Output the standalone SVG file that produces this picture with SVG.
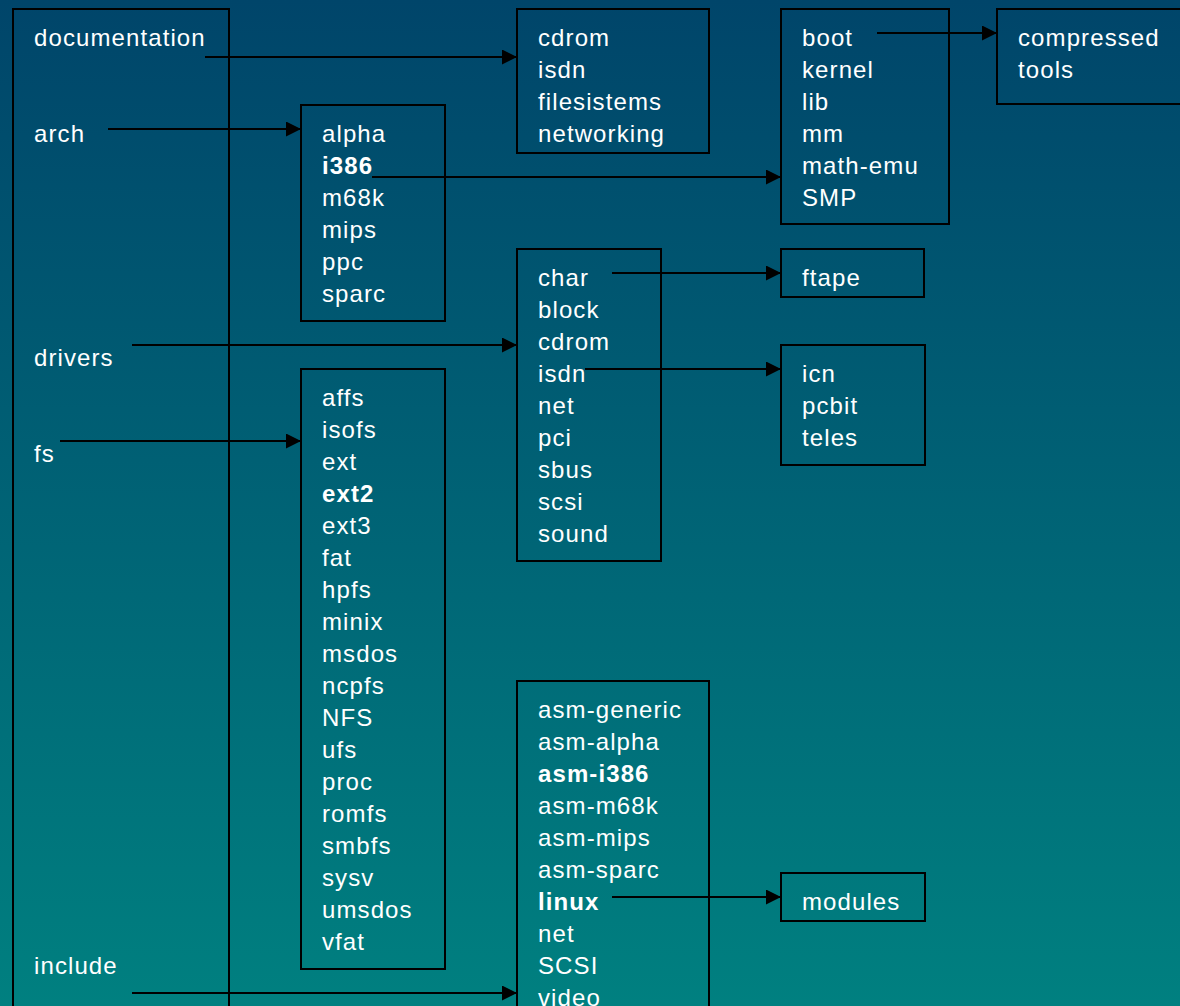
<svg xmlns="http://www.w3.org/2000/svg" width="1180" height="1006" viewBox="0 0 1180 1006">
<defs>
<linearGradient id="bg" x1="0" y1="0" x2="0" y2="1">
<stop offset="0" stop-color="#00456A"/>
<stop offset="1" stop-color="#008080"/>
</linearGradient>
<marker id="ah" markerUnits="userSpaceOnUse" markerWidth="16" markerHeight="16" refX="15" refY="7.5" orient="auto">
<path d="M0,0 L15,7.5 L0,15 z" fill="#000"/>
</marker>
<style>
.box{fill:none;stroke:#000;stroke-width:2}
text{font-family:"Liberation Sans",Arial,sans-serif;font-size:24px;fill:#fff;letter-spacing:1.1px}
.b{font-weight:bold}
.c{stroke:#000;stroke-width:2;fill:none;marker-end:url(#ah)}
</style>
</defs>
<rect x="0" y="0" width="1180" height="1006" fill="url(#bg)"/>
<g id="root">
<rect class="box" x="13" y="9" width="216" height="1100"/>
<text x="34" y="46">documentation</text>
<text x="34" y="142">arch</text>
<text x="34" y="366">drivers</text>
<text x="34" y="462">fs</text>
<text x="34" y="974">include</text>
</g>
<g id="documentation">
<rect class="box" x="517" y="9" width="192" height="144"/>
<text x="538" y="46">cdrom</text>
<text x="538" y="78">isdn</text>
<text x="538" y="110">filesistems</text>
<text x="538" y="142">networking</text>
</g>
<g id="i386">
<rect class="box" x="781" y="9" width="168" height="215"/>
<text x="802" y="46">boot</text>
<text x="802" y="78">kernel</text>
<text x="802" y="110">lib</text>
<text x="802" y="142">mm</text>
<text x="802" y="174">math-emu</text>
<text x="802" y="206">SMP</text>
</g>
<g id="boot">
<rect class="box" x="997" y="9" width="200" height="95"/>
<text x="1018" y="46">compressed</text>
<text x="1018" y="78">tools</text>
</g>
<g id="arch">
<rect class="box" x="301" y="105" width="144" height="216"/>
<text x="322" y="142">alpha</text>
<text x="322" y="174" class="b">i386</text>
<text x="322" y="206">m68k</text>
<text x="322" y="238">mips</text>
<text x="322" y="270">ppc</text>
<text x="322" y="302">sparc</text>
</g>
<g id="drivers">
<rect class="box" x="517" y="249" width="144" height="312"/>
<text x="538" y="286">char</text>
<text x="538" y="318">block</text>
<text x="538" y="350">cdrom</text>
<text x="538" y="382">isdn</text>
<text x="538" y="414">net</text>
<text x="538" y="446">pci</text>
<text x="538" y="478">sbus</text>
<text x="538" y="510">scsi</text>
<text x="538" y="542">sound</text>
</g>
<g id="char">
<rect class="box" x="781" y="249" width="143" height="48"/>
<text x="802" y="286">ftape</text>
</g>
<g id="isdn">
<rect class="box" x="781" y="345" width="144" height="120"/>
<text x="802" y="382">icn</text>
<text x="802" y="414">pcbit</text>
<text x="802" y="446">teles</text>
</g>
<g id="fs">
<rect class="box" x="301" y="369" width="144" height="600"/>
<text x="322" y="406">affs</text>
<text x="322" y="438">isofs</text>
<text x="322" y="470">ext</text>
<text x="322" y="502" class="b">ext2</text>
<text x="322" y="534">ext3</text>
<text x="322" y="566">fat</text>
<text x="322" y="598">hpfs</text>
<text x="322" y="630">minix</text>
<text x="322" y="662">msdos</text>
<text x="322" y="694">ncpfs</text>
<text x="322" y="726">NFS</text>
<text x="322" y="758">ufs</text>
<text x="322" y="790">proc</text>
<text x="322" y="822">romfs</text>
<text x="322" y="854">smbfs</text>
<text x="322" y="886">sysv</text>
<text x="322" y="918">umsdos</text>
<text x="322" y="950">vfat</text>
</g>
<g id="include">
<rect class="box" x="517" y="681" width="192" height="400"/>
<text x="538" y="718">asm-generic</text>
<text x="538" y="750">asm-alpha</text>
<text x="538" y="782" class="b">asm-i386</text>
<text x="538" y="814">asm-m68k</text>
<text x="538" y="846">asm-mips</text>
<text x="538" y="878">asm-sparc</text>
<text x="538" y="910" class="b">linux</text>
<text x="538" y="942">net</text>
<text x="538" y="974">SCSI</text>
<text x="538" y="1006">video</text>
</g>
<g id="linux">
<rect class="box" x="781" y="873" width="144" height="48"/>
<text x="802" y="910">modules</text>
</g>
<g id="connectors">
<line class="c" x1="205" y1="57" x2="517" y2="57"/>
<line class="c" x1="108" y1="129" x2="301" y2="129"/>
<line class="c" x1="372" y1="177" x2="781" y2="177"/>
<line class="c" x1="877" y1="33" x2="997" y2="33"/>
<line class="c" x1="612" y1="273" x2="781" y2="273"/>
<line class="c" x1="132" y1="345" x2="517" y2="345"/>
<line class="c" x1="585" y1="369" x2="781" y2="369"/>
<line class="c" x1="60" y1="441" x2="301" y2="441"/>
<line class="c" x1="612" y1="897" x2="781" y2="897"/>
<line class="c" x1="132" y1="993" x2="517" y2="993"/>
</g>
</svg>
